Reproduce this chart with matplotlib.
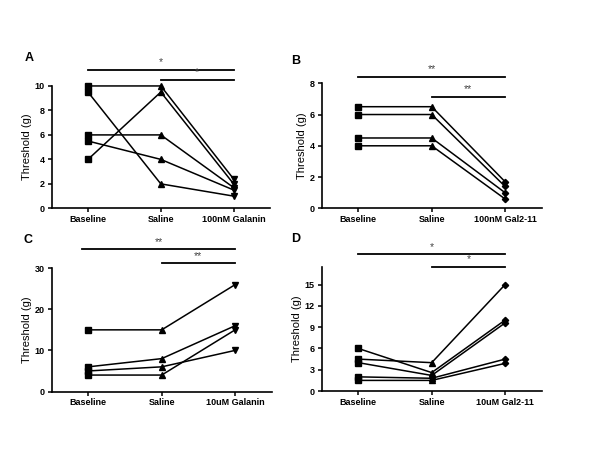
import numpy as np
import matplotlib
matplotlib.use("Agg")
import matplotlib.pyplot as plt

plt.rcParams["font.family"] = ["Liberation Sans", "DejaVu Sans"]

# ── data ────────────────────────────────────────────────────────────────────
a_labels = ["Baseline", "Saline", "100nM Galanin"]
a_base = [10, 9.5, 4, 6, 5.5]
a_saline = [10, 2, 9.5, 6, 4]
a_drug = [2.4, 1.0, 2.0, 1.7, 1.5]

b_labels = ["Baseline", "Saline", "100nM Gal2-11"]
b_base = [6.5, 6, 4.5, 4]
b_saline = [6.5, 6, 4.5, 4]
b_drug = [1.7, 1.4, 1.0, 0.6]

c_labels = ["Baseline", "Saline", "10uM Galanin"]
c_base = [15, 6, 5, 4]
c_saline = [15, 8, 6, 4]
c_drug = [26, 16, 10, 15]

d_labels = ["Baseline", "Saline", "10uM Gal2-11"]
d_base = [6, 4.5, 4, 2, 1.5]
d_saline = [2.6, 4, 2.2, 1.8, 1.5]
d_drug = [10, 15, 9.6, 4.5, 3.9]

panels = [
    ("A", a_labels, a_base, a_saline, a_drug, ("s", "^", "v"), (0, 10), [0, 2, 4, 6, 8, 10], "*",
     [0.086, 0.537, 0.364, 0.272], (1.134, 1.052), 0.0, (29, 58)),
    ("B", b_labels, b_base, b_saline, b_drug, ("s", "^", "D"), (0, 8), [0, 2, 4, 6, 8], "**",
     [0.536, 0.537, 0.367, 0.278], (1.053, 0.893), 0.0, (296, 61)),
    ("C", c_labels, c_base, c_saline, c_drug, ("s", "^", "v"), (0, 30), [0, 10, 20, 30], "**",
     [0.086, 0.130, 0.367, 0.274], (1.154, 1.04), -0.08, (28, 240)),
    ("D", d_labels, d_base, d_saline, d_drug, ("s", "^", "D"), (0, 17.5), [0, 3, 6, 9, 12, 15], "*",
     [0.536, 0.131, 0.367, 0.276], (1.10, 1.0), 0.0, (296, 239)),
]

fig = plt.figure(figsize=(6, 4.5), dpi=100)

for letter, labels, base, sal, drug, mk, ylim, yticks, star, rect, bars, bar_x0, lpos in panels:
    ax = fig.add_axes(rect)
    x = np.arange(3)
    for b, s, d in zip(base, sal, drug):
        ax.plot(x, [b, s, d], color="black", linewidth=1.1, zorder=2, clip_on=False)
        for xi, yi, m in zip(x, [b, s, d], mk):
            ms = 3.2 if m == "D" else 4
            ax.plot(xi, yi, marker=m, color="black", markersize=ms, linestyle="none",
                    zorder=3, clip_on=False)

    ax.set_xlim(-0.5, 2.5)
    ax.set_ylim(*ylim)
    ax.set_xticks(x)
    ax.set_xticklabels(labels, fontsize=6.5, fontweight="bold")
    ax.set_yticks(yticks)
    ax.set_yticklabels([str(t) for t in yticks], fontsize=6.5, fontweight="bold")
    ax.set_ylabel("Threshold (g)", fontsize=8, labelpad=2)
    ax.spines["top"].set_visible(False)
    ax.spines["right"].set_visible(False)
    ax.spines["left"].set_linewidth(1.2)
    ax.spines["bottom"].set_linewidth(1.2)
    ax.tick_params(direction="out", length=3, width=1.1, pad=2)

    # significance bars
    trans = ax.get_xaxis_transform()
    ax.plot([bar_x0, 2], [bars[0], bars[0]], color="black", linewidth=1.3,
            transform=trans, clip_on=False)
    ax.plot([1, 2], [bars[1], bars[1]], color="black", linewidth=1.3,
            transform=trans, clip_on=False)
    ax.text((bar_x0 + 2) / 2, bars[0] + 0.02, star, transform=trans, ha="center",
            va="bottom", fontsize=7.5, color="#444444")
    ax.text(1.5, bars[1] + 0.02, star, transform=trans, ha="center",
            va="bottom", fontsize=7.5, color="#444444")

    fig.text(lpos[0] / 600, 1 - lpos[1] / 450, letter,
             fontsize=9, fontweight="bold", ha="center", va="center")

fig.savefig("out.png", dpi=100)
